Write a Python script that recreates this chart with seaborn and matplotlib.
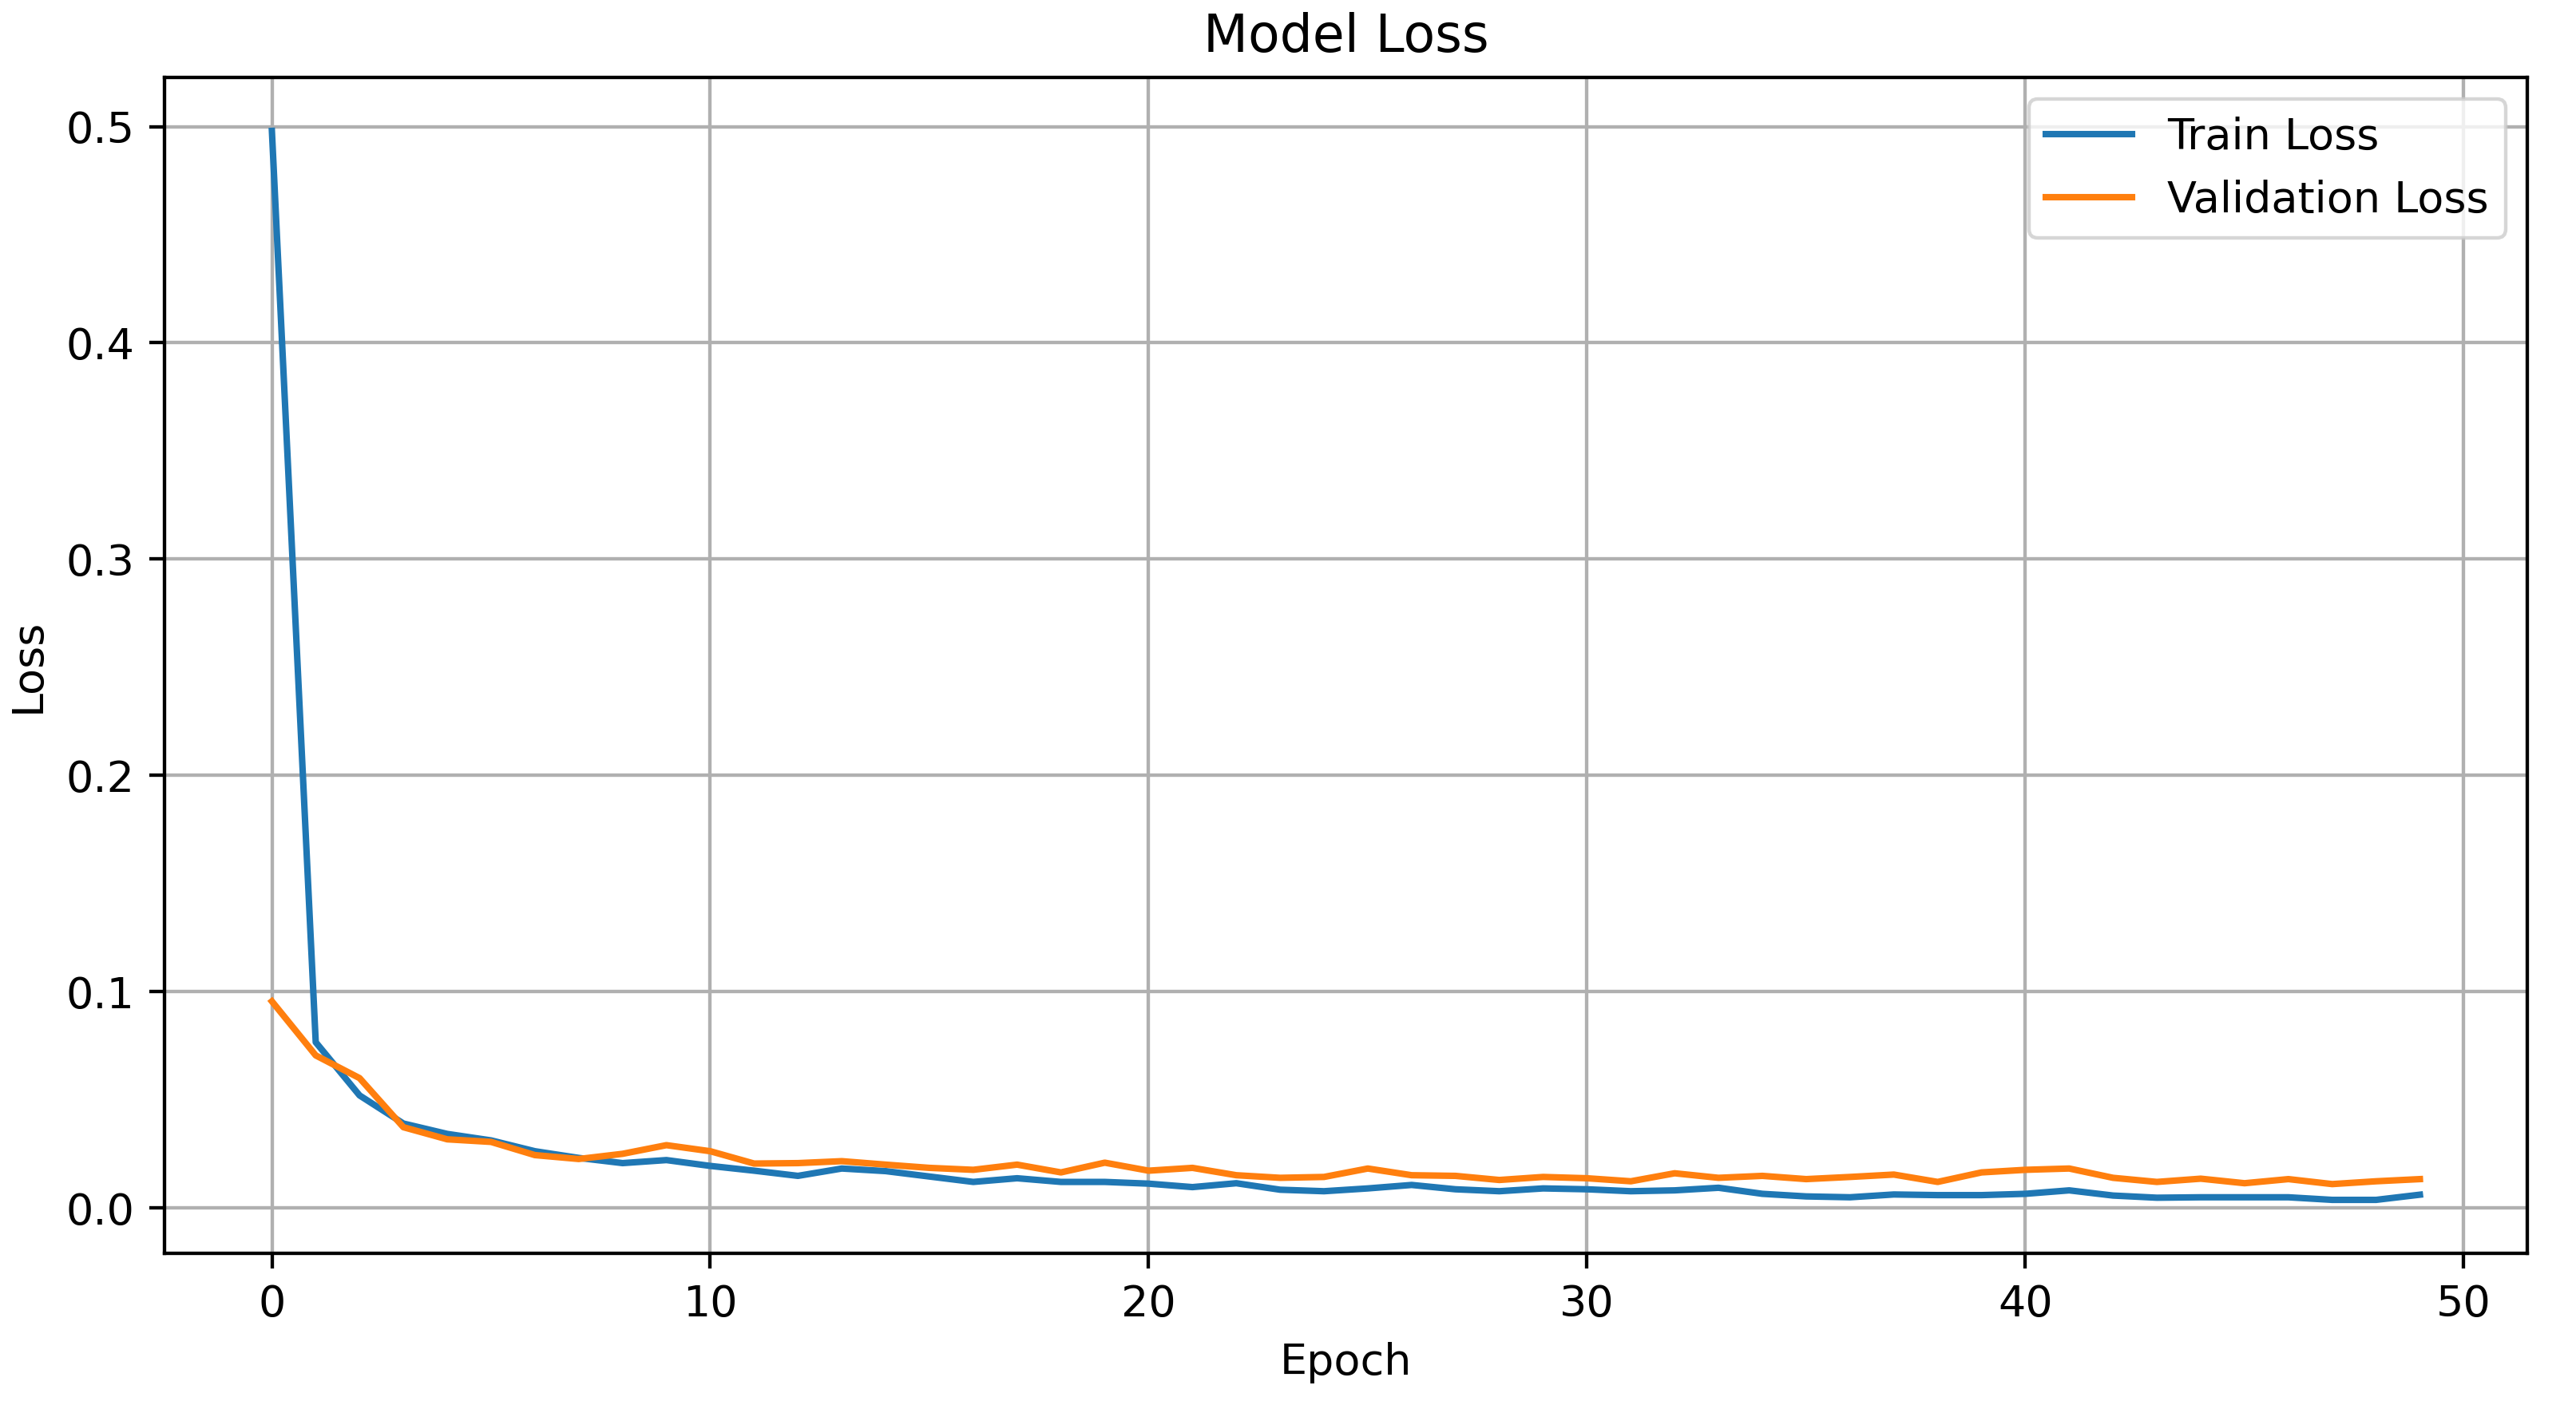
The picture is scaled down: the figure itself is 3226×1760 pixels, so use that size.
import matplotlib
matplotlib.use("Agg")
import matplotlib.pyplot as plt
import seaborn as sns
import pandas as pd

epochs = list(range(50))
train_loss = [0.498, 0.0766, 0.052, 0.039, 0.0342, 0.0312, 0.0262, 0.0231, 0.0207, 0.0221,
              0.0194, 0.0172, 0.0148, 0.0182, 0.017, 0.0145, 0.012, 0.0137, 0.012, 0.012,
              0.0112, 0.0096, 0.0114, 0.0084, 0.0077, 0.009, 0.0106, 0.0086, 0.0077, 0.009,
              0.0086, 0.0077, 0.0081, 0.0093, 0.0065, 0.0053, 0.0049, 0.0062, 0.0059, 0.0059,
              0.0065, 0.0081, 0.0057, 0.0047, 0.0049, 0.0049, 0.0049, 0.0037, 0.0037, 0.0061]
val_loss = [0.0955, 0.0705, 0.060, 0.0373, 0.0317, 0.0305, 0.0244, 0.0226, 0.025, 0.029,
            0.0262, 0.0205, 0.0207, 0.0216, 0.020, 0.0185, 0.0176, 0.020, 0.0164, 0.0209,
            0.0172, 0.0185, 0.0151, 0.0139, 0.0143, 0.0182, 0.0151, 0.0148, 0.0129, 0.0143,
            0.0137, 0.0123, 0.016, 0.0139, 0.0148, 0.0133, 0.0143, 0.0154, 0.012, 0.0164,
            0.0176, 0.0182, 0.0139, 0.012, 0.0135, 0.0114, 0.0133, 0.011, 0.0123, 0.0133]

df = pd.DataFrame({"Epoch": epochs, "Train Loss": train_loss, "Validation Loss": val_loss})

S = 1.22
plt.rcParams.update({
    "font.size": 10 * S,
    "axes.linewidth": 0.8 * S,
    "xtick.major.width": 0.8 * S,
    "ytick.major.width": 0.8 * S,
    "xtick.major.size": 3.5 * S,
    "ytick.major.size": 3.5 * S,
    "xtick.major.pad": 3.5 * S,
    "ytick.major.pad": 3.5 * S,
    "axes.labelpad": 4 * S,
    "axes.titlepad": 6 * S,
})

DPI = 319
fig = plt.figure(figsize=(3226 / DPI, 1760 / DPI), dpi=DPI)
ax = fig.add_axes([206 / 3226, 1 - 1570 / 1760, (3165 - 206) / 3226, (1570 - 97) / 1760])

sns.lineplot(data=df, x="Epoch", y="Train Loss", ax=ax, color="#1f77b4", linewidth=1.5 * S, label="Train Loss")
sns.lineplot(data=df, x="Epoch", y="Validation Loss", ax=ax, color="#ff7f0e", linewidth=1.5 * S, label="Validation Loss")

ax.set_title("Model Loss", fontsize=12 * S)
ax.set_xlabel("Epoch", fontsize=10 * S)
ax.set_ylabel("Loss", fontsize=10 * S)
ax.set_xticks([0, 10, 20, 30, 40, 50])
ax.set_yticks([0.0, 0.1, 0.2, 0.3, 0.4, 0.5])
ax.grid(True, color="#b0b0b0", linewidth=0.8 * S)
ax.legend(loc="upper right", fontsize=10 * S)

fig.savefig("out.png", dpi=DPI)
